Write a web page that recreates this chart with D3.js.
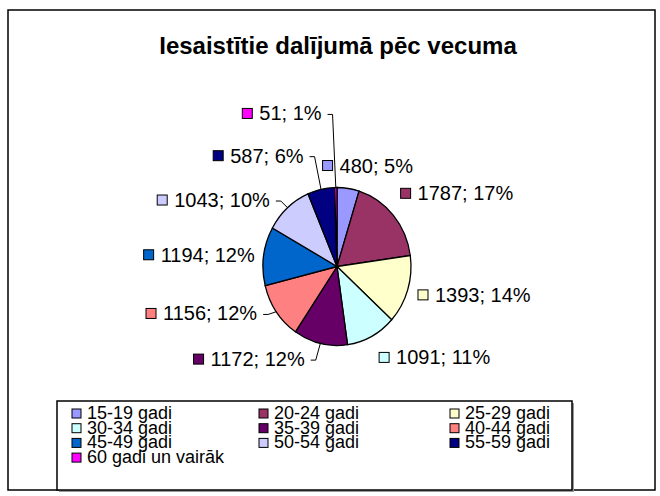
<!DOCTYPE html>
<html>
<head>
<meta charset="utf-8">
<script src="https://cdn.jsdelivr.net/npm/d3@7"></script>
<style>
  body { margin: 0; background: #fff; }
  svg { font-family: "Liberation Sans", Arial, sans-serif; }
</style>
</head>
<body>
<svg id="chart" width="660" height="496"></svg>
<script>
// data
const categories = ["15-19 gadi", "20-24 gadi", "25-29 gadi", "30-34 gadi", "35-39 gadi",
                    "40-44 gadi", "45-49 gadi", "50-54 gadi", "55-59 gadi", "60 gadi un vairāk"];
const counts = [480, 1787, 1393, 1091, 1172, 1156, 1194, 1043, 587, 51];
const percents = [5, 17, 14, 11, 12, 12, 12, 10, 6, 1];
const colors = ["#9999FF", "#993366", "#FFFFCC", "#CCFFFF", "#660066",
                "#FF8080", "#0066CC", "#CCCCFF", "#000080", "#FF00FF"];

// label nudges (layout only), in px from the default label spot
const labelNudge = [[-29, -6], [-6, -11], [-6, 0], [-1, 6], [-12, -1],
                    [-6, -8], [7, 1], [-7, 5], [-14, -17], [-14, -57]];

const svg = d3.select("#chart");
const cx = 337, cy = 266.5, r = 74, sy = 79 / 74;

// outer frame
svg.append("rect")
    .attr("x", 8).attr("y", 10)
    .attr("width", 647).attr("height", 480)
    .attr("fill", "#fff")
    .attr("stroke", "#000")
    .attr("stroke-width", 1.5);

// title
svg.append("text")
    .attr("x", 338).attr("y", 54)
    .attr("text-anchor", "middle")
    .style("font-size", "24px")
    .style("font-weight", "bold")
    .text("Iesaistītie dalījumā pēc vecuma");

const pie = d3.pie().sort(null).value(d => d)(counts);
const arc = d3.arc().innerRadius(0).outerRadius(r);

const g = svg.append("g")
    .attr("transform", `translate(${cx},${cy}) scale(1,${sy})`);

g.selectAll("path")
    .data(pie)
    .join("path")
    .attr("d", arc)
    .attr("fill", (d, i) => colors[i])
    .attr("stroke", "#000")
    .attr("stroke-width", 1.3)
    .attr("vector-effect", "non-scaling-stroke");

// data labels
const labels = svg.append("g").style("font-size", "20px");
pie.forEach((d, i) => {
    const a = (d.startAngle + d.endAngle) / 2;
    const right = Math.sin(a) > 0.1;
    const bx = cx + 90 * Math.sin(a) + labelNudge[i][0];
    const by = cy - 90 * sy * Math.cos(a) + labelNudge[i][1];
    const txt = counts[i] + "; " + percents[i] + "%";
    const t = labels.append("text")
        .attr("y", by + 7)
        .text(txt);
    const w = t.node().getComputedTextLength();
    let textStart, textEnd;
    if (right) {
        textStart = bx + 18;
    } else {
        textStart = bx - w;
    }
    textEnd = textStart + w;
    t.attr("x", textStart);
    labels.append("rect")
        .attr("x", textStart - 17).attr("y", by - 5)
        .attr("width", 10).attr("height", 10)
        .attr("fill", colors[i])
        .attr("stroke", "#000")
        .attr("stroke-width", 1);
    // leader line from left-side labels that sit away from the pie
    const ex = cx + r * Math.sin(a), ey = cy - r * sy * Math.cos(a);
    if (!right && ex - textEnd > 10) {
        labels.append("polyline")
            .attr("points", [[textEnd + 6, by + 1], [textEnd + 11, by + 1], [ex, ey]].join(" "))
            .attr("fill", "none")
            .attr("stroke", "#000")
            .attr("stroke-width", 1);
    }
});

// legend
const lx = 57, ly = 401, lw = 515, lh = 89;
svg.append("rect")
    .attr("x", lx + 2).attr("y", ly + 2)
    .attr("width", lw).attr("height", lh)
    .attr("fill", "#999");
svg.append("rect")
    .attr("x", lx).attr("y", ly)
    .attr("width", lw).attr("height", lh)
    .attr("fill", "#fff")
    .attr("stroke", "#000")
    .attr("stroke-width", 1.5);

const colX = [72, 259, 450];
const legend = svg.append("g").style("font-size", "18px");
categories.forEach((c, i) => {
    const col = i % 3, row = Math.floor(i / 3);
    const x = colX[col], y = 413 + row * 14.7;
    legend.append("rect")
        .attr("x", x).attr("y", y - 4)
        .attr("width", 9).attr("height", 9)
        .attr("fill", colors[i])
        .attr("stroke", "#000")
        .attr("stroke-width", 1);
    legend.append("text")
        .attr("x", x + 15).attr("y", y + 6)
        .text(c);
});
</script>
</body>
</html>
